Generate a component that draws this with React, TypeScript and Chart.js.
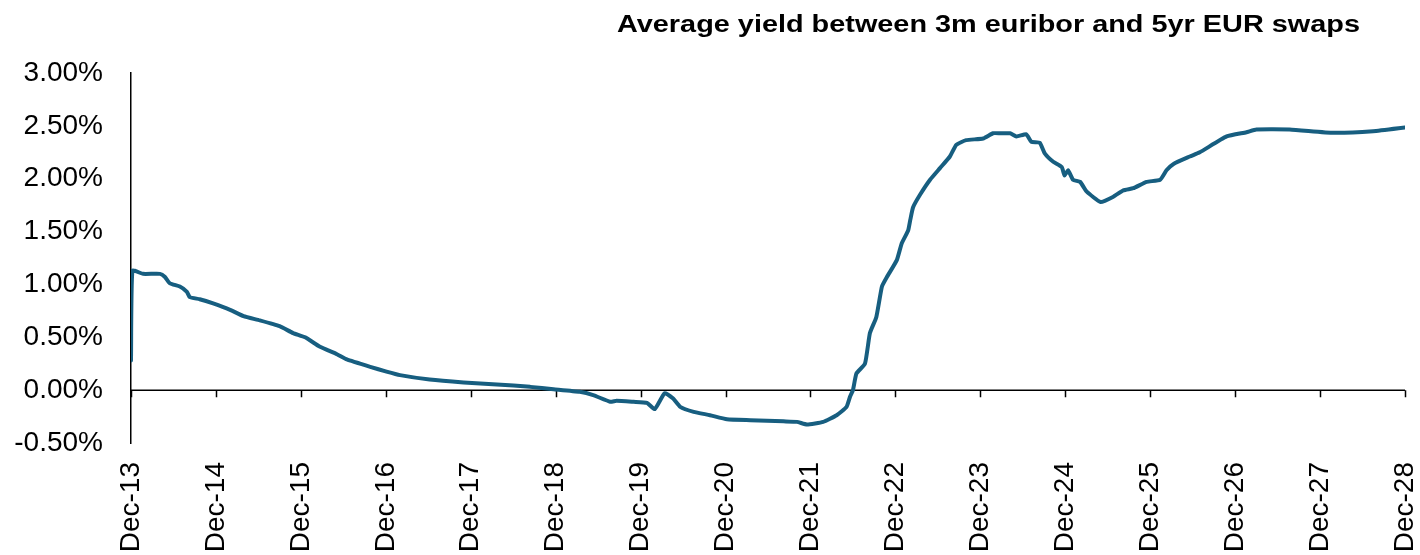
import React, { useEffect, useRef } from "react";
import { Chart, registerables } from "chart.js";

Chart.register(...registerables);

const TITLE = "Average yield between 3m euribor and 5yr EUR swaps";

// x tick labels, one per December (every 12 months from Dec-13)
const tickLabels = [
  "Dec-13", "Dec-14", "Dec-15", "Dec-16", "Dec-17", "Dec-18", "Dec-19", "Dec-20",
  "Dec-21", "Dec-22", "Dec-23", "Dec-24", "Dec-25", "Dec-26", "Dec-27", "Dec-28",
];

// months elapsed since Dec-13
const monthsSinceDec13 = [
  0, 0.2, 1.7, 4.1, 4.8, 5.5, 6.9, 7.9, 8.3, 9.7, 11.6, 14.0, 15.9, 18.2, 21.0, 22.9,
  24.6, 26.7, 29.1, 30.5, 33.8, 36.1, 38.0, 42.2, 47.0, 51.7, 56.4, 59.7, 63.4, 65.3,
  67.7, 68.6, 71.0, 72.9, 74.0, 75.4, 76.6, 77.6, 79.5, 81.8, 84.2, 87.5, 92.2, 94.1,
  95.5, 97.8, 99.7, 101.1, 101.6, 102.0, 102.5, 103.7, 104.4, 105.3, 106.1, 106.8,
  108.2, 108.9, 109.8, 110.1, 110.5, 111.5, 112.9, 114.3, 115.7, 116.6, 118.0, 120.4,
  121.8, 122.8, 124.2, 125.1, 126.5, 127.2, 128.4, 129.1, 130.3, 131.5, 131.9, 132.4,
  133.1, 134.1, 135.0, 137.0, 138.8, 140.2, 141.6, 143.5, 145.4, 146.3, 147.3, 149.6,
  151.0, 154.8, 157.6, 159.0, 163.7, 169.9, 175.5, 180.0,
];

// average yield, %
const avgYield = [
  0.28, 1.13, 1.10, 1.10, 1.07, 1.01, 0.98, 0.93, 0.88, 0.86, 0.82, 0.76, 0.70, 0.66, 0.605, 0.54,
  0.50, 0.41, 0.34, 0.29, 0.22, 0.175, 0.142, 0.10, 0.073, 0.054, 0.031, 0.009, -0.016, -0.047,
  -0.11, -0.10, -0.11, -0.12, -0.18, -0.03, -0.08, -0.158, -0.205, -0.237, -0.275, -0.284, -0.295, -0.30,
  -0.325, -0.30, -0.237, -0.158, -0.06, 0.0, 0.158, 0.25, 0.54, 0.69, 0.98, 1.07,
  1.23, 1.39, 1.51, 1.61, 1.73, 1.85, 1.99, 2.10, 2.21, 2.32, 2.365, 2.38,
  2.43, 2.43, 2.43, 2.40, 2.42, 2.35, 2.34, 2.24, 2.16, 2.11, 2.03, 2.08,
  1.99, 1.97, 1.88, 1.78, 1.83, 1.89, 1.91, 1.97, 1.99, 2.08, 2.14, 2.21,
  2.25, 2.40, 2.44, 2.466, 2.466, 2.434, 2.45, 2.485,
];

const yTicks = [-0.5, 0, 0.5, 1, 1.5, 2, 2.5, 3];

const LINE_COLOR = "#175E80";
const FONT = "'Liberation Sans', Arial, sans-serif";

const axisMarks = {
  id: "axisMarks",
  beforeDatasetsDraw(chart: any) {
    const { ctx, scales, chartArea } = chart;
    const x = scales.x;
    const y = scales.y;
    const y0 = y.getPixelForValue(0);
    ctx.save();
    ctx.strokeStyle = "#000";
    ctx.lineWidth = 1.5;
    ctx.beginPath();
    ctx.moveTo(chartArea.left, y0);
    ctx.lineTo(chartArea.right, y0);
    x.ticks.forEach((t: any) => {
      const px = Math.round(x.getPixelForValue(t.value)) + 0.5;
      ctx.moveTo(px, y0);
      ctx.lineTo(px, y0 + 7);
    });
    ctx.stroke();
    ctx.restore();
  },
  afterDraw(chart: any) {
    const { ctx } = chart;
    ctx.save();
    ctx.font = `bold 23.5px ${FONT}`;
    ctx.fillStyle = "#000";
    ctx.textAlign = "right";
    ctx.textBaseline = "alphabetic";
    const w = ctx.measureText(TITLE).width;
    const sx = 743 / w;
    ctx.translate(1360, 32);
    ctx.scale(sx, 1);
    ctx.fillText(TITLE, 0, 0);
    ctx.restore();
  },
};

export default function App() {
  const ref = useRef<HTMLCanvasElement | null>(null);

  useEffect(() => {
    if (!ref.current) return;
    const points = monthsSinceDec13.map((m, i) => ({ x: m, y: avgYield[i] }));
    const chart = new Chart(ref.current, {
      type: "line",
      data: {
        datasets: [
          {
            label: TITLE,
            data: points,
            borderColor: LINE_COLOR,
            backgroundColor: LINE_COLOR,
            borderWidth: 4,
            pointRadius: 0,
            tension: 0.15,
            borderJoinStyle: "round",
            borderCapStyle: "round",
          },
        ],
      },
      options: {
        animation: false,
        responsive: true,
        maintainAspectRatio: false,
        layout: { padding: { left: 0, right: 15, top: 73, bottom: 0 } },
        plugins: {
          legend: { display: false },
          title: { display: false },
          tooltip: { enabled: false },
        },
        scales: {
          x: {
            type: "linear",
            min: 0,
            max: 180,
            grid: { display: false, drawTicks: false },
            border: { display: false },
            afterBuildTicks(scale: any) {
              scale.ticks = tickLabels.map((_, i) => ({ value: i * 12 }));
            },
            afterFit(scale: any) {
              scale.height = 112;
              scale.paddingLeft = 0;
              scale.paddingRight = 0;
            },
            ticks: {
              autoSkip: false,
              maxRotation: 90,
              minRotation: 90,
              padding: 19,
              color: "#000",
              font: { family: FONT, size: 28 },
              callback: (v: any) => tickLabels[Math.round(Number(v) / 12)] ?? "",
            },
          },
          y: {
            min: -0.5,
            max: 3,
            afterBuildTicks(scale: any) {
              scale.ticks = yTicks.map((v) => ({ value: v }));
            },
            afterFit(scale: any) {
              scale.width = 131;
              scale.paddingTop = 0;
              scale.paddingBottom = 0;
            },
            grid: { display: false, drawTicks: false },
            border: { display: true, color: "#000", width: 1.5 },
            ticks: {
              padding: 28,
              color: "#000",
              font: { family: FONT, size: 28 },
              callback: (v: any) => Number(v).toFixed(2) + "%",
            },
          },
        },
      },
      plugins: [axisMarks],
    });
    return () => chart.destroy();
  }, []);

  return (
    <div style={{ position: "fixed", left: 0, top: 0, width: 1420, height: 555, background: "#fff" }}>
      <canvas ref={ref} />
    </div>
  );
}
